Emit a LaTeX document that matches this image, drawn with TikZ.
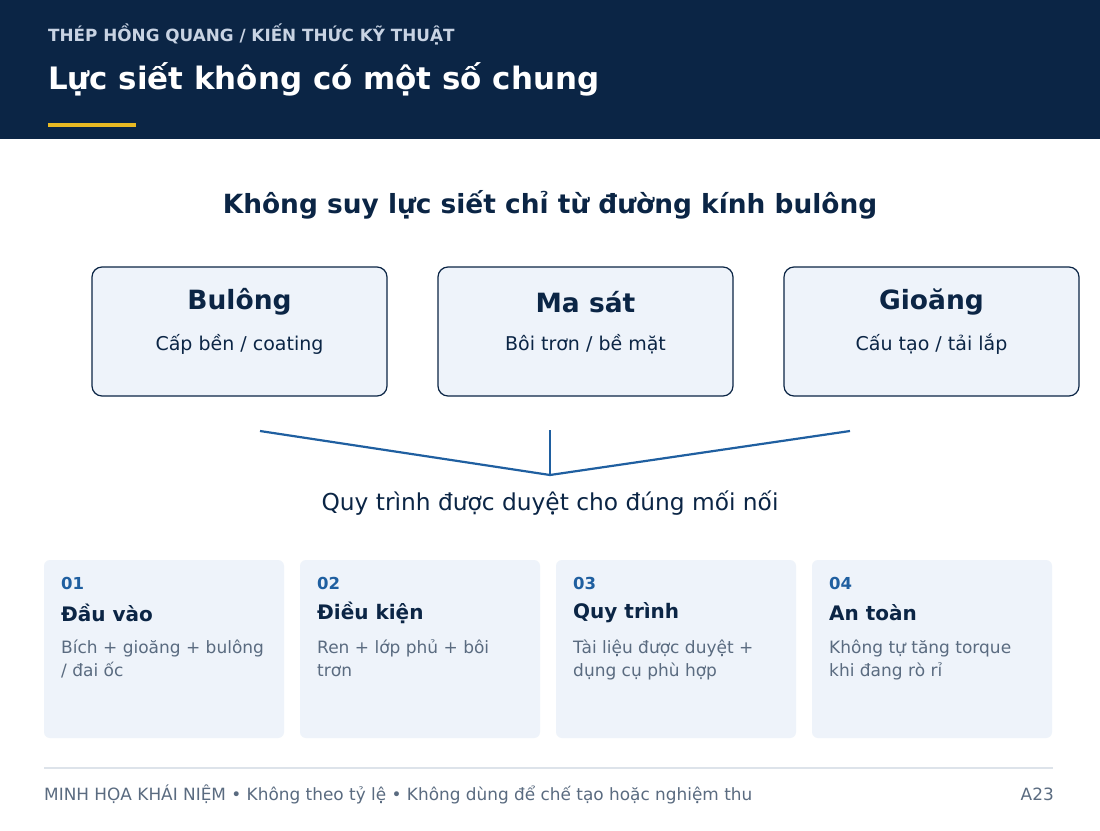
\documentclass[tikz,border=0pt]{standalone}
\usepackage{fontspec}
\setmainfont{DejaVu Sans}
\definecolor{navy}{HTML}{0B2545}
\definecolor{sub}{HTML}{C8D3E3}
\definecolor{gold}{HTML}{E8B923}
\definecolor{card}{HTML}{EEF3FA}
\definecolor{blu}{HTML}{1F5FA0}
\definecolor{gry}{HTML}{5A6B80}
\definecolor{rule}{HTML}{DDE3EA}
\newcommand{\fs}[1]{\fontsize{#1}{#1}\selectfont}
\begin{document}
\begin{tikzpicture}[x=1pt,y=-1pt,
 box/.style={draw=navy,line width=1.2pt,fill=card,rounded corners=10pt},
 crd/.style={fill=card,rounded corners=6pt},
 bt/.style={font=\fs{26.5}\bfseries,text=navy},
 bs/.style={font=\fs{19},text=navy},
 num/.style={anchor=west,font=\fs{16.5}\bfseries,text=blu},
 ct/.style={anchor=west,font=\fs{20}\bfseries,text=navy},
 cd/.style={anchor=north west,font=\fontsize{17}{23}\selectfont,text=gry,align=left,inner sep=0pt},
 ln/.style={draw=blu,line width=2.2pt}]
\useasboundingbox (0,0) rectangle (1100,830);
\fill[white] (0,0) rectangle (1100,830);
\fill[navy] (0,0) rectangle (1100,139);
\node[anchor=west,text=sub,font=\fs{16.8}\bfseries,inner sep=0pt] (hs) at (48,34) {THÉP HỒNG QUANG / KIẾN THỨC KỸ THUẬT};
\node[anchor=west,text=white,font=\fs{30.9}\bfseries,inner sep=0pt] (ht) at (48,79) {Lực siết không có một số chung};
\fill[gold] (48,123) rectangle (136,127);
\node[font=\fs{26.4}\bfseries,text=navy] (hd) at (550,205) {Không suy lực siết chỉ từ đường kính bulông};
\foreach \x/\n/\t/\s in {92/b1/Bulông/{Cấp bền / coating},438/b2/Ma sát/{Bôi trơn / bề mặt},784/b3/Gioăng/{Cấu tạo / tải lắp}}{
 \draw[box] (\x,267) rectangle ++(295,129);
 \node[bt] (\n t) at (\x+147.5,302) {\t};
 \node[bs] (\n s) at (\x+147.5,344) {\s};
}
\coordinate (l1) at (260,431);
\coordinate (l2) at (550,430);
\coordinate (l3) at (850,431);
\coordinate (m) at (550,475);
\draw[ln] (l1) -- (m);
\draw[ln] (l2) -- (m);
\draw[ln] (l3) -- (m);
\node[font=\fs{23.3},text=navy] (q) at (550,503) {Quy trình được duyệt cho đúng mối nối};
\foreach \x/\n/\a/\b/\c in {44/c1/01/Đầu vào/{Bích + gioăng + bulông\\{/} đai ốc},300/c2/02/Điều kiện/{Ren + lớp phủ + bôi\\trơn},556/c3/03/Quy trình/{Tài liệu được duyệt +\\dụng cụ phù hợp},812/c4/04/An toàn/{Không tự tăng torque\\khi đang rò rỉ}}{
 \fill[crd] (\x,560) rectangle ++(240,178);
 \node[num,inner sep=0pt] (\n n) at (\x+17,583) {\a};
 \node[ct,inner sep=0pt] (\n t) at (\x+17,613) {\b};
 \node[cd] (\n d) at (\x+17,640) {\c};
}
\draw[rule,line width=1.5pt] (44,768) -- (1053,768);
\node[anchor=west,font=\fs{16.9},text=gry,inner sep=0pt] (f1) at (44,794) {MINH HỌA KHÁI NIỆM • Không theo tỷ lệ • Không dùng để chế tạo hoặc nghiệm thu};
\node[anchor=east,font=\fs{16.9},text=gry,inner sep=0pt] (f2) at (1054,794) {A23};
\end{tikzpicture}
\end{document}
